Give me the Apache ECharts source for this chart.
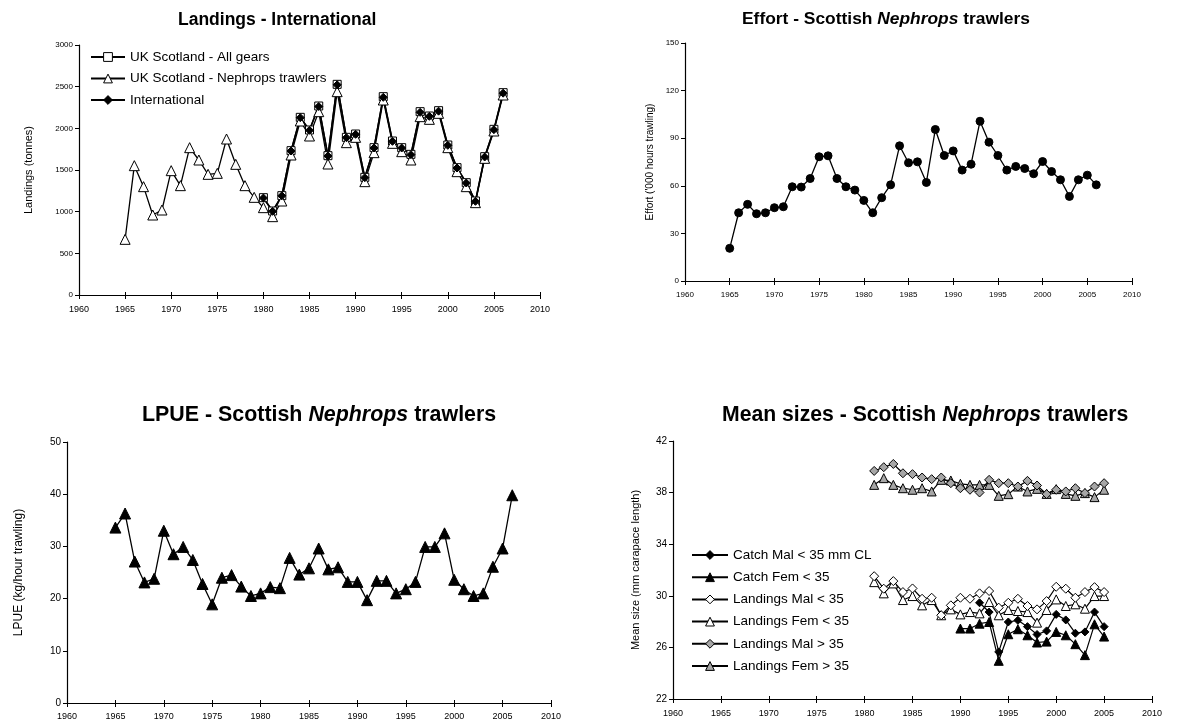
<!DOCTYPE html>
<html>
<head>
<meta charset="utf-8">
<script src="https://cdn.jsdelivr.net/npm/echarts@6/dist/echarts.min.js"></script>
<style>
html,body{margin:0;padding:0;background:#fff;}
#chart{width:1181px;height:727px;}
</style>
</head>
<body>
<div id="chart"></div>
<script>
// ---------- DATA ----------
const yearsLong = [1965,1966,1967,1968,1969,1970,1971,1972,1973,1974,1975,1976,1977,1978,1979,1980,1981,1982,1983,1984,1985,1986,1987,1988,1989,1990,1991,1992,1993,1994,1995,1996,1997,1998,1999,2000,2001,2002,2003,2004,2005,2006];
const landNephropsTrawlers = [668,1552,1300,960,1020,1492,1312,1768,1620,1448,1460,1872,1568,1312,1172,1048,940,1128,1680,2088,1908,2200,1572,2440,1828,1892,1360,1708,2340,1820,1720,1620,2140,2108,2180,1768,1480,1300,1108,1640,1968,2400];
const yearsAllGears = [1980,1981,1982,1983,1984,1985,1986,1987,1988,1989,1990,1991,1992,1993,1994,1995,1996,1997,1998,1999,2000,2001,2002,2003,2004,2005,2006];
const landAllGears = [1168,1008,1192,1732,2132,1980,2268,1672,2528,1892,1932,1412,1768,2380,1848,1768,1688,2200,2148,2212,1800,1528,1348,1128,1660,1988,2428];
const landInternational = [1164,1004,1190,1728,2128,1976,2262,1668,2522,1888,1928,1408,1764,2372,1844,1764,1684,2192,2144,2206,1796,1524,1344,1124,1656,1984,2422];

const effort = [20.6,43,48.3,42.4,43,46.2,46.8,59.4,59.2,64.6,78.3,78.9,64.6,59.4,57.3,50.8,43,52.5,60.6,85.2,74.5,75.1,62.1,95.5,79.1,82,69.9,73.6,100.7,87.5,79.1,69.9,72.2,70.9,67.6,75.3,69,63.8,53.3,63.8,66.7,60.6];

const lpue = [33.6,36.3,27.1,23.1,23.8,33.0,28.5,29.9,27.4,22.8,18.9,24.0,24.5,22.3,20.5,21.0,22.2,22.0,27.8,24.6,25.8,29.6,25.6,26.0,23.2,23.2,19.7,23.4,23.4,21.0,21.8,23.2,29.9,29.9,32.5,23.6,21.8,20.5,21.0,26.1,29.6,39.8];

const yearsSize = [1981,1982,1983,1984,1985,1986,1987,1988,1989,1990,1991,1992,1993,1994,1995,1996,1997,1998,1999,2000,2001,2002,2003,2004,2005];
const landMalGt35 = [39.68,39.97,40.22,39.5,39.43,39.17,39.04,39.17,38.73,38.34,38.22,38.01,38.99,38.73,38.73,38.47,38.91,38.55,37.88,38.22,38.09,38.34,37.96,38.47,38.73];
const landFemGt35 = [38.6,39.12,38.6,38.34,38.22,38.34,38.09,38.99,38.94,38.68,38.6,38.6,38.6,37.75,37.88,38.47,38.09,38.29,37.9,38.27,37.9,37.75,37.96,37.65,38.22];
const landMalLt35 = [31.52,30.55,31.14,30.29,30.57,29.77,29.85,28.49,29.26,29.85,29.77,30.19,30.37,29.08,29.46,29.77,29.21,28.95,29.59,30.7,30.55,29.85,30.29,30.67,30.29];
const landFemLt35 = [31.06,30.19,30.96,29.67,29.98,29.26,29.67,28.49,28.95,28.56,28.74,28.64,29.52,28.49,28.9,28.82,28.74,27.92,28.9,29.72,29.21,29.34,29.0,29.98,29.98];
const yearsCatchFem = [1990,1991,1992,1993,1994,1995,1996,1997,1998,1999,2000,2001,2002,2003,2004,2005];
const catchFem = [27.46,27.46,27.84,27.97,24.96,27.02,27.41,26.94,26.38,26.45,27.2,26.94,26.25,25.4,27.79,26.84];
const yearsCatchMal = [1992,1993,1994,1995,1996,1997,1998,1999,2000,2001,2002,2003,2004,2005];
const catchMal = [29.46,28.74,25.65,27.97,28.1,27.61,27.0,27.28,28.56,28.13,27.1,27.2,28.74,27.61];

const titles = ['Landings - International','Effort - Scottish ','LPUE - Scottish ','Mean sizes - Scottish '];
const yNames = ['Landings (tonnes)', "Effort ('000 hours trawling)", 'LPUE (kg/hour trawling)', 'Mean size (mm carapace length)'];

// ---------- BUILD ----------
const FONT = 'Liberation Sans, Arial, sans-serif';
const pairs = (xs, ys) => xs.map((x, i) => [x, ys[i]]);
const plain = v => String(v);
const chart = echarts.init(document.getElementById('chart'), null, {renderer: 'canvas'});

const grids = [
  {left: 79, top: 45, width: 461, height: 250},
  {left: 685, top: 43, width: 447, height: 238},
  {left: 67, top: 442, width: 484, height: 261},
  {left: 673, top: 441, width: 479, height: 258}
];

function xAx(gi, fs, margin) {
  return {
    type: 'value', gridIndex: gi, min: 1960, max: 2010, interval: 5,
    axisLine: {lineStyle: {color: '#000', width: 1.2}},
    axisTick: {show: true, length: 4, lineStyle: {color: '#000'}},
    axisLabel: {color: '#000', fontSize: fs, fontFamily: FONT, margin: margin, formatter: plain},
    splitLine: {show: false}
  };
}
// companion axis: inner half of the crossing tick marks
function xAxInner(gi) {
  return {
    type: 'value', gridIndex: gi, min: 1960, max: 2010, interval: 5, position: 'bottom',
    axisLine: {show: false},
    axisTick: {show: true, inside: true, length: 3, lineStyle: {color: '#000'}},
    axisLabel: {show: false},
    splitLine: {show: false}
  };
}
function yAx(gi, min, max, interval, fs, name, nameFs, gap) {
  return {
    type: 'value', gridIndex: gi, min: min, max: max, interval: interval,
    name: name, nameLocation: 'middle', nameGap: gap,
    nameTextStyle: {color: '#000', fontSize: nameFs, fontFamily: FONT},
    axisLine: {show: true, lineStyle: {color: '#000', width: 1.2}},
    axisTick: {show: true, length: 4, lineStyle: {color: '#000'}},
    axisLabel: {color: '#000', fontSize: fs, fontFamily: FONT, margin: 6, formatter: plain},
    splitLine: {show: false}
  };
}
function lineSeries(name, data, gi, symbol, size, fill, lw) {
  return {
    name: name, type: 'line', xAxisIndex: gi, yAxisIndex: gi, data: data,
    symbol: symbol, symbolSize: size, showSymbol: true,
    lineStyle: {color: '#000', width: lw || 1.3},
    itemStyle: {color: fill, borderColor: '#000', borderWidth: 1},
    emphasis: {disabled: true}
  };
}
const legItem = (name, fill) => ({name: name, itemStyle: {color: fill, borderColor: '#000', borderWidth: 1}});
const rich = (fs) => ({
  b: {fontWeight: 'bold', fontSize: fs, fontFamily: FONT, color: '#000'},
  i: {fontWeight: 'bold', fontStyle: 'italic', fontSize: fs, fontFamily: FONT, color: '#000'}
});

const option = {
  animation: false,
  backgroundColor: '#fff',
  title: [
    {text: '{b|' + titles[0] + '}', left: 173, top: 6, textStyle: {rich: rich(17.5)}},
    {text: '{b|' + titles[1] + '}{i|Nephrops}{b| trawlers}', left: 737, top: 6, textStyle: {rich: rich(17.4)}},
    {text: '{b|' + titles[2] + '}{i|Nephrops}{b| trawlers}', left: 137, top: 400, textStyle: {rich: rich(21.4)}},
    {text: '{b|' + titles[3] + '}{i|Nephrops}{b| trawlers}', left: 717, top: 400, textStyle: {rich: rich(21.2)}}
  ],
  legend: [
    {
      data: [legItem('UK Scotland - All gears', '#fff'), legItem('UK Scotland - Nephrops trawlers', '#fff'), legItem('International', '#000')],
      orient: 'vertical', left: 85, top: 45, itemWidth: 34, itemHeight: 11, itemGap: 7.5,
      textStyle: {color: '#000', fontSize: 13.5, fontFamily: FONT}
    },
    {
      data: [legItem('Catch Mal < 35 mm CL', '#000'), legItem('Catch Fem < 35', '#000'), legItem('Landings Mal < 35', '#fff'),
             legItem('Landings Fem < 35', '#fff'), legItem('Landings Mal > 35', '#a6a6a6'), legItem('Landings Fem > 35', '#a6a6a6')],
      orient: 'vertical', left: 686, top: 543, itemWidth: 36, itemHeight: 11, itemGap: 8.2,
      textStyle: {color: '#000', fontSize: 13.5, fontFamily: FONT}
    }
  ],
  grid: grids,
  xAxis: [xAx(0, 9, 10), xAx(1, 8, 10), xAx(2, 9, 9), xAx(3, 9, 10),
          xAxInner(0), xAxInner(1), xAxInner(2), xAxInner(3)],
  yAxis: [
    yAx(0, 0, 3000, 500, 8, yNames[0], 11, 45),
    yAx(1, 0, 150, 30, 8, yNames[1], 10, 30),
    yAx(2, 0, 50, 10, 10, yNames[2], 12, 42),
    yAx(3, 22, 42, 4, 10, yNames[3], 11, 32)
  ],
  series: [
    lineSeries('UK Scotland - All gears', pairs(yearsAllGears, landAllGears), 0, 'rect', 8, '#fff', 1.5),
    lineSeries('UK Scotland - Nephrops trawlers', pairs(yearsLong, landNephropsTrawlers), 0, 'triangle', 10, '#fff', 1.3),
    lineSeries('International', pairs(yearsAllGears, landInternational), 0, 'diamond', 8, '#000', 1.5),
    lineSeries('Effort', pairs(yearsLong, effort), 1, 'circle', 8, '#000', 1.3),
    lineSeries('LPUE', pairs(yearsLong, lpue), 2, 'triangle', 11, '#000', 1.3),
    lineSeries('Landings Fem > 35', pairs(yearsSize, landFemGt35), 3, 'triangle', 9, '#a6a6a6', 1.2),
    lineSeries('Landings Mal > 35', pairs(yearsSize, landMalGt35), 3, 'diamond', 9, '#a6a6a6', 1.2),
    lineSeries('Landings Fem < 35', pairs(yearsSize, landFemLt35), 3, 'triangle', 9, '#fff', 1.2),
    lineSeries('Landings Mal < 35', pairs(yearsSize, landMalLt35), 3, 'diamond', 9, '#fff', 1.2),
    lineSeries('Catch Fem < 35', pairs(yearsCatchFem, catchFem), 3, 'triangle', 9, '#000', 1.2),
    lineSeries('Catch Mal < 35 mm CL', pairs(yearsCatchMal, catchMal), 3, 'diamond', 8, '#000', 1.2)
  ]
};
chart.setOption(option);
</script>
</body>
</html>
